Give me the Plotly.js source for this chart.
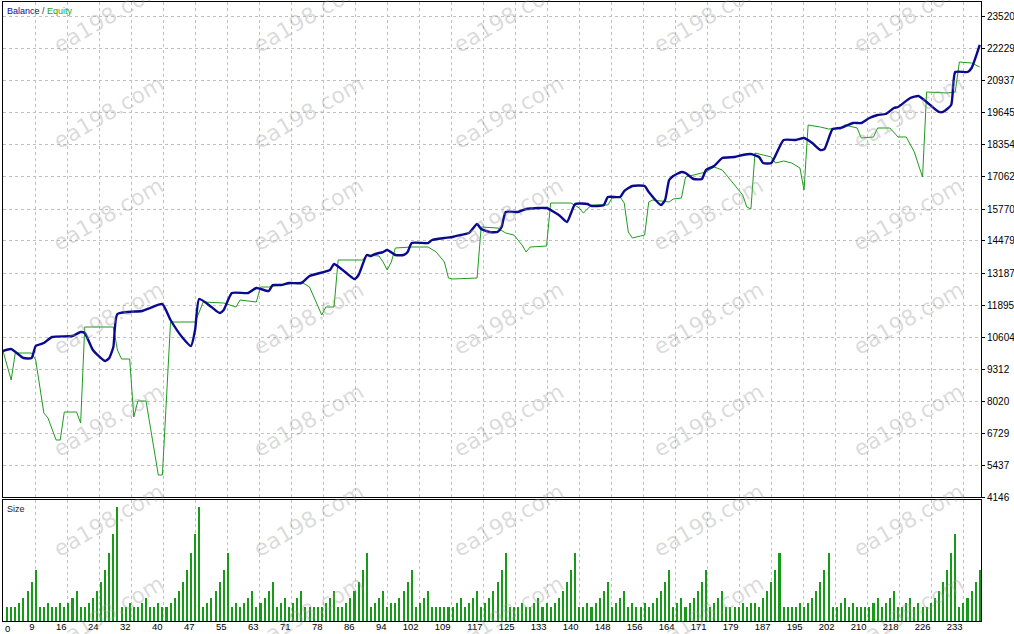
<!DOCTYPE html>
<html><head><meta charset="utf-8">
<script src="https://cdn.plot.ly/plotly-3.0.1.min.js"></script>
<style>html,body{margin:0;padding:0;background:#fff}#chart{width:1014px;height:634px}</style>
</head><body><div id="chart"></div>
<script>
// ---- data (trade number -> account value) ----
const balanceTrade = [0,2,5,7,8,10,12,17,19,20,22,25,26,27,28,34,36,39,41,44,46,47,48,51,53,54,56,60,62,65,66,68,70,73,75,80,81,84,86,87,89,90,91,93,94,96,98,99,100,104,105,108,110,112,114,116,117,119,121,122,123,126,128,131,133,136,138,139,140,143,144,147,148,151,152,154,157,158,161,162,163,164,166,167,169,171,172,174,176,179,181,183,185,186,188,191,194,196,198,200,201,203,205,208,210,212,214,216,218,219,222,224,226,229,230,232,233,236,237,239];
const balanceValue = [10039,10119,9756,9756,10240,10361,10604,10644,10805,10765,10079,9635,9756,10200,11532,11653,11774,11935,11290,10563,10240,10886,12137,11814,11572,11693,12379,12379,12581,12460,12702,12702,12783,12783,13066,13308,13550,13187,12944,13106,13913,13873,13953,14034,14115,13913,13913,14034,14397,14397,14519,14599,14640,14720,14801,15164,14962,14841,14841,15043,15649,15649,15770,15810,15810,15528,15245,15608,15971,15971,15891,15931,16254,16254,16496,16698,16698,16456,15931,16133,16940,17102,17263,17223,16980,16980,17344,17505,17828,17868,17949,17989,17868,17626,17626,18555,18555,18635,18433,18151,18191,18998,19039,19241,19241,19442,19564,19604,19846,19886,20250,20330,20088,19685,19685,19967,21299,21299,21460,22389];
const equityTrade = [0,2,3,7,8,10,11,13,14,15,18,19,20,27,28,29,31,32,33,35,38,39,41,47,49,54,57,58,62,63,65,73,75,78,79,81,82,88,89,92,93,94,95,96,100,104,106,108,109,110,116,117,121,123,125,127,128,129,133,134,139,141,142,143,144,148,149,151,152,153,154,156,157,158,159,163,164,166,167,172,174,176,178,180,181,182,183,184,188,189,191,193,195,196,197,200,202,205,206,209,210,213,214,217,219,221,223,224,225,226,231,233,234,237,239];
const equityValue = [10039,8868,9958,9958,9675,7536,7334,6447,6447,7577,7577,7133,11007,11007,10079,9716,9716,7375,8021,8021,5034,5034,11209,11209,12016,11976,11814,12097,12016,12622,12622,12823,12622,11492,11814,11814,13711,13711,13913,13873,13631,13308,13631,14196,14236,14236,14034,13631,12985,12944,12985,15043,15003,14801,14720,14317,14034,14236,14276,16012,16012,15810,15608,15770,15931,15931,16214,16254,16012,14841,14599,14680,14720,16052,16133,16052,16173,16214,17061,17263,17465,17344,16940,16537,16335,15850,15770,18030,17868,17626,17707,17626,17424,16537,19160,19079,18998,19039,19160,19039,18635,18676,19039,19039,18676,18676,18070,17546,17061,20492,20451,20492,21703,21662,21501];
// lot size of trades 1..239
const sizeValue = [
0.10,0.10,0.10,0.13,0.16,0.21,0.28,0.36,
0.10,0.10,0.13,0.10,0.10,0.13,0.10,0.13,0.16,0.21,
0.10,0.10,0.13,0.16,0.21,0.28,0.36,0.48,0.62,0.81,
0.10,0.10,0.13,0.10,0.10,0.13,0.16,0.10,0.10,0.13,0.10,0.10,0.13,0.16,0.21,0.28,0.36,0.48,0.62,0.81,
0.10,0.13,0.16,0.21,0.28,0.36,0.48,
0.10,0.13,0.10,0.13,0.16,0.21,0.10,0.13,0.16,0.21,0.28,
0.10,0.13,0.16,0.10,0.13,0.16,0.21,0.10,0.10,0.10,0.10,0.10,0.13,0.16,0.21,
0.10,0.10,0.13,0.16,0.21,0.28,0.36,0.48,
0.10,0.13,0.16,0.21,0.10,0.13,0.13,0.16,0.21,0.28,0.36,
0.10,0.13,0.16,0.21,0.10,0.10,0.10,0.10,
0.10,0.10,0.13,0.16,0.10,0.13,0.16,0.21,0.10,0.13,0.16,0.21,0.28,0.36,0.48,
0.10,0.10,0.10,0.13,0.10,0.10,0.13,0.16,0.10,0.13,0.10,0.13,0.16,0.21,0.28,0.36,0.48,
0.10,0.10,0.13,0.10,0.13,0.16,0.21,0.28,
0.10,0.13,0.16,0.21,
0.10,0.13,0.10,0.10,0.13,0.10,0.13,0.16,0.21,0.28,0.36,
0.10,0.13,0.16,0.10,0.13,0.16,0.21,0.28,0.36,
0.10,0.13,0.16,0.21,
0.10,0.10,0.10,0.10,0.13,0.10,0.13,0.13,0.10,0.16,0.21,0.28,0.36,0.48,
0.10,0.10,0.10,0.10,0.13,0.10,0.13,0.16,0.21,0.28,0.36,0.48,
0.10,0.10,0.13,0.16,0.10,0.13,0.10,0.10,
0.10,0.10,0.13,0.16,0.10,0.13,0.16,0.21,
0.10,0.10,0.13,0.16,0.10,0.13,0.10,0.10,0.13,0.16,0.21,0.28,0.36,0.48,0.62,
0.10,0.13,0.16,0.21,0.28,0.36];
const xTickLabels = ["0","9","16","24","32","40","47","55","63","71","78","86","94","102","109","117","125","133","140","148","156","164","171","179","187","195","202","210","218","226","233"];
const yTickValues = [4146,5437,6729,8020,9312,10604,11895,13187,14479,15770,17062,18354,19645,20937,22229,23520];

// ---- derived / layout ----
const sizeTrade = sizeValue.map((_, i) => i + 1);
const tradesPerGrid = 7.83;
const xGrid = xTickLabels.map((_, k) => k * tradesPerGrid);
const xRange = [0, 239.3];
const GRID = '#c0c0c0';
const DASH = '3px,3px';
const FONT = 'Liberation Sans, Arial, sans-serif';

const traces = [
  {x: equityTrade, y: equityValue, type: 'scatter', mode: 'lines', xaxis: 'x', yaxis: 'y',
   line: {color: '#1f9a1f', width: 1}, hoverinfo: 'skip'},
  {x: balanceTrade, y: balanceValue, type: 'scatter', mode: 'lines', xaxis: 'x', yaxis: 'y',
   line: {color: '#0a0a8e', width: 2.4, shape: 'spline', smoothing: 0.5}, hoverinfo: 'skip'},
  {x: sizeTrade, y: sizeValue, type: 'bar', xaxis: 'x2', yaxis: 'y2',
   marker: {color: '#179a17', line: {width: 0}}, width: 0.5, hoverinfo: 'skip'}
];

const annotations = [
  {xref: 'paper', yref: 'paper', x: 0, y: 1, xanchor: 'left', yanchor: 'top', xshift: 2, yshift: -2,
   showarrow: false, align: 'left',
   text: '<span style="color:#0a0a8e">Balance</span><span style="color:#333"> / </span><span style="color:#1fa01f">Equity</span>',
   font: {family: FONT, size: 9}},
  {xref: 'paper', yref: 'paper', x: 0, y: 0.1955, xanchor: 'left', yanchor: 'top', xshift: 2, yshift: -2,
   showarrow: false, text: 'Size', font: {family: FONT, size: 9, color: '#222'}},
  {xref: 'x2', yref: 'paper', x: 0, y: 0, xanchor: 'left', yanchor: 'top', yshift: 0, xshift: 0,
   showarrow: false, text: '0', font: {family: FONT, size: 9.5, color: '#000'}}
];
// watermark
const wmCols = [108, 308, 508, 708, 908];
const wmRows = [16, 112, 215, 318, 420, 520, 612];
wmRows.forEach(ry => wmCols.forEach(cx => {
  annotations.push({xref: 'paper', yref: 'paper', x: (cx - 3) / 978, y: (621 - ry) / 619,
    xanchor: 'center', yanchor: 'middle', showarrow: false, text: 'ea198.com', textangle: -30,
    font: {family: 'DejaVu Sans, Verdana, sans-serif', size: 22, color: 'rgba(150,150,150,0.34)'}});
}));

const ticktext2 = xTickLabels.map((t, i) => i === 0 ? '' : t);

const layout = {
  width: 1014, height: 634,
  margin: {l: 3, r: 33, t: 2, b: 13, pad: 0},
  paper_bgcolor: '#ffffff', plot_bgcolor: '#ffffff',
  showlegend: false, bargap: 0,
  font: {family: FONT, size: 10, color: '#000'},
  xaxis: {domain: [0, 1], range: xRange, anchor: 'y', tickmode: 'array', tickvals: xGrid,
    showticklabels: false, ticks: '', showgrid: true, gridcolor: GRID, griddash: DASH, gridwidth: 1,
    zeroline: false, showline: true, mirror: true, linecolor: '#000', linewidth: 1},
  yaxis: {domain: [0.2003, 1], range: [4146, 24124], anchor: 'x', side: 'right', tickmode: 'array',
    tickvals: yTickValues, ticktext: yTickValues.map(String), ticks: 'outside', ticklen: 3, tickcolor: '#000',
    showgrid: true, gridcolor: GRID, griddash: DASH, zeroline: false,
    showline: true, mirror: true, linecolor: '#000', linewidth: 1,
    tickfont: {family: FONT, size: 10, color: '#000'}},
  xaxis2: {domain: [0, 1], range: xRange, anchor: 'y2', tickmode: 'array', tickvals: xGrid, ticktext: ticktext2,
    ticklabelposition: 'outside left', ticklabelstandoff: -3, ticks: '', showgrid: true, gridcolor: GRID, griddash: DASH,
    zeroline: false, showline: true, mirror: true, linecolor: '#000', linewidth: 1,
    tickfont: {family: FONT, size: 9.5, color: '#000'}},
  yaxis2: {domain: [0, 0.1955], range: [0, 0.86], anchor: 'x2', showticklabels: false, ticks: '',
    showgrid: false, zeroline: false, showline: true, mirror: true, linecolor: '#000', linewidth: 1},
  annotations: annotations
};

Plotly.newPlot('chart', traces, layout, {staticPlot: true, displayModeBar: false});
</script>
</body></html>
